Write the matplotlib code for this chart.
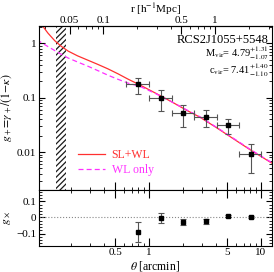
import matplotlib
matplotlib.use("Agg")
import matplotlib.pyplot as plt
from matplotlib.ticker import FixedLocator, NullFormatter, MultipleLocator
import numpy as np

plt.rcParams["font.family"] = ["Liberation Serif", "DejaVu Serif"]
plt.rcParams["mathtext.fontset"] = "stix"
plt.rcParams["hatch.linewidth"] = 0.9

# model curves (theta in arcmin)
theta_slwl = [0.112, 0.125, 0.144, 0.165, 0.19, 0.23, 0.285, 0.35, 0.43, 0.53,
              0.65, 0.83, 1.15, 1.6, 2.2, 2.85, 4.0, 5.5, 8.0, 13.0]
g_slwl = [2.1, 1.55, 1.12, 0.88, 0.72, 0.59, 0.49, 0.41, 0.34, 0.275,
          0.22, 0.172, 0.121, 0.084, 0.058, 0.044, 0.0283, 0.0184, 0.0111, 0.006]
theta_wl = [0.1, 0.12, 0.154, 0.189, 0.23, 0.285, 0.35, 0.43, 0.53, 0.65,
            0.83, 1.15, 1.6, 2.2, 2.85, 4.0, 5.5, 8.0, 13.0]
g_wl = [1.16, 0.92, 0.68, 0.54, 0.455, 0.38, 0.315, 0.26, 0.218, 0.186,
        0.162, 0.119, 0.084, 0.059, 0.0448, 0.0288, 0.0188, 0.0113, 0.0061]

# binned shear profile
theta_pts = [0.8, 1.27, 2.01, 3.21, 5.1, 8.09]
bin_lo = [0.63, 1.0, 1.6, 2.55, 4.03, 6.4]
bin_hi = [1.0, 1.6, 2.55, 4.03, 6.4, 10.1]
g_plus = [0.182, 0.100, 0.053, 0.044, 0.031, 0.0093]
g_plus_up = [0.234, 0.136, 0.075, 0.060, 0.041, 0.0141]
g_plus_lo = [0.119, 0.0565, 0.0294, 0.0286, 0.0216, 0.0042]
g_cross = [-0.092, -0.006, -0.026, -0.025, 0.007, 0.002]
g_cross_err = [0.063, 0.031, 0.019, 0.018, 0.007, 0.006]

hatch_range = (0.148, 0.183)
arcmin_to_mpc = 0.256

fig = plt.figure(figsize=(2.74, 2.72), dpi=100)
ax1 = fig.add_axes([0.142, 0.301, 0.851, 0.604])
ax2 = fig.add_axes([0.142, 0.097, 0.851, 0.204], sharex=ax1)

ax1.axvspan(*hatch_range, facecolor="white", edgecolor="#1a1a1a", hatch="//////", lw=0)
ax1.plot(theta_slwl, g_slwl, color="#ff3030", lw=0.9, label="SL+WL")
ax1.plot(theta_wl, g_wl, color="#ff30ff", lw=0.9, ls=(0, (4, 2.5)), label="WL only")

tp = np.array(theta_pts)
gp = np.array(g_plus)
xerr = [tp - np.array(bin_lo), np.array(bin_hi) - tp]
yerr = [gp - np.array(g_plus_lo), np.array(g_plus_up) - gp]
ax1.errorbar(tp, gp, xerr=xerr, yerr=yerr, fmt="s", ms=3.2, color="black",
             ecolor="#555555", elinewidth=0.8, capsize=2, capthick=0.8)

ax1.set_xscale("log")
ax1.set_yscale("log")
ax1.set_xlim(0.104, 12.6)
ax1.set_ylim(0.002, 2.1)
ax1.yaxis.set_major_locator(FixedLocator([0.01, 0.1, 1]))
ax1.set_yticklabels(["0.01", "0.1", "1"])
ax1.tick_params(axis="x", labelbottom=False)
ax1.set_ylabel(r"$g_+\!=\!\gamma_+/(1\!-\!\kappa)$", fontsize=8.5, labelpad=2)

leg = ax1.legend(loc="lower left", bbox_to_anchor=(0.12, 0.02), frameon=False,
                 fontsize=8.5, handlelength=2.3, handletextpad=0.6, labelspacing=0.3)
for t, c in zip(leg.get_texts(), ["#ff3030", "#ff30ff"]):
    t.set_color(c)

ax1.text(0.985, 0.915, "RCS2J1055+5548", transform=ax1.transAxes, ha="right",
         va="center", fontsize=9)
ax1.text(0.985, 0.832, r"M$_{\rm vir}$= 4.79$^{+1.31}_{-1.07}$", transform=ax1.transAxes,
         ha="right", va="center", fontsize=7.5)
ax1.text(0.985, 0.728, r"c$_{\rm vir}$= 7.41$^{+1.40}_{-1.10}$", transform=ax1.transAxes,
         ha="right", va="center", fontsize=7.5)

sec = ax1.secondary_xaxis("top", functions=(lambda t: t * arcmin_to_mpc,
                                             lambda r: r / arcmin_to_mpc))
sec.set_xticks([0.05, 0.1, 0.5, 1])
sec.set_xticklabels(["0.05", "0.1", "0.5", "1"])
sec.xaxis.set_minor_locator(FixedLocator([0.03, 0.04, 0.06, 0.07, 0.08, 0.09,
                                          0.2, 0.3, 0.4, 0.6, 0.7, 0.8, 0.9, 2, 3]))
sec.xaxis.set_minor_formatter(NullFormatter())
sec.tick_params(direction="in", labelsize=8, length=6, pad=0.5)
sec.tick_params(which="minor", direction="in", length=2)
sec.set_xlabel(r"r [h$^{-1}$Mpc]", fontsize=8, labelpad=2.5)

ax2.axhline(0, color="#888888", lw=0.8, ls=":")
ax2.errorbar(theta_pts, g_cross, yerr=g_cross_err, fmt="s", ms=3.2, color="black",
             ecolor="#555555", elinewidth=0.8, capsize=2, capthick=0.8)
ax2.set_ylim(-0.175, 0.17)
ax2.yaxis.set_major_locator(FixedLocator([-0.1, 0, 0.1]))
ax2.set_yticklabels(["\u22120.1", "0", "0.1"])
ax2.yaxis.set_minor_locator(MultipleLocator(0.02))
ax2.xaxis.set_major_locator(FixedLocator([0.5, 1, 5, 10]))
ax2.set_xticklabels(["0.5", "1", "5", "10"])
ax2.xaxis.set_minor_locator(FixedLocator([0.2, 0.3, 0.4, 0.6, 0.7, 0.8, 0.9,
                                          2, 3, 4, 6, 7, 8, 9]))
ax2.xaxis.set_minor_formatter(NullFormatter())
ax2.set_xlabel(r"$\theta$ [arcmin]", fontsize=8.5, labelpad=1)
ax2.set_ylabel(r"$g_\times$", fontsize=8.5, labelpad=2)

for ax in (ax1, ax2):
    ax.tick_params(which="both", direction="in", top=True, right=True, labelsize=8, pad=2)
    ax.tick_params(which="major", length=4)
    ax.tick_params(which="minor", length=2)
    for s in ax.spines.values():
        s.set_linewidth(0.8)
ax1.tick_params(axis="x", which="both", top=False)
ax2.tick_params(axis="x", which="major", length=6)
ax1.tick_params(axis="x", which="major", length=6)
ax2.set_xlim(0.104, 12.6)

fig.savefig("out.png", dpi=100)
